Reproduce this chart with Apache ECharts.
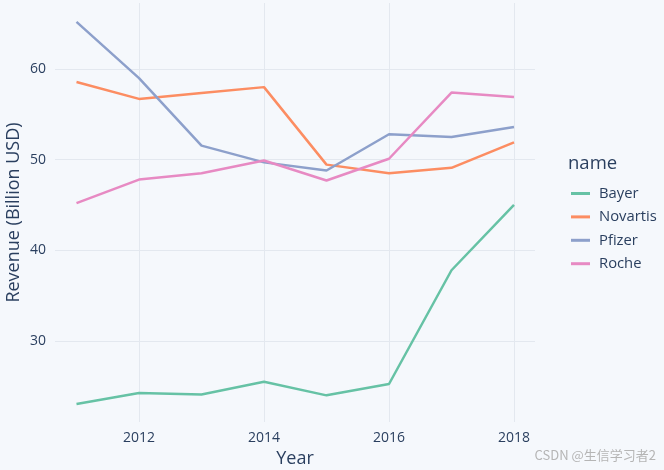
<!DOCTYPE html>
<html><head><meta charset="utf-8">
<script src="https://cdn.jsdelivr.net/npm/echarts@6/dist/echarts.min.js"></script>
<style>html,body{margin:0;padding:0;background:#f5f8fc}#c{width:664px;height:470px}</style>
</head><body><div id="c"></div>
<script>
var years = [2011, 2012, 2013, 2014, 2015, 2016, 2017, 2018];
var bayer    = [23.05, 24.26, 24.1, 25.5, 24.0, 25.25, 37.8, 45.0];
var novartis = [58.57, 56.7, 57.35, 58.0, 49.45, 48.5, 49.1, 51.9];
var pfizer   = [65.2, 59.0, 51.55, 49.7, 48.8, 52.8, 52.5, 53.6];
var roche    = [45.2, 47.8, 48.5, 49.9, 47.7, 50.1, 57.4, 56.9];
var xTicks = [2012, 2014, 2016, 2018];
var yTicks = [30, 40, 50, 60];
var names = ['Bayer', 'Novartis', 'Pfizer', 'Roche'];
var colors = ['#66c2a5', '#fc8d62', '#8da0cb', '#e78ac3'];
var seriesData = [bayer, novartis, pfizer, roche];

var txt = '#2a3f5f';
var font = "'Open Sans', 'Noto Sans', sans-serif";
var chart = echarts.init(document.getElementById('c'), null, {renderer: 'canvas'});
chart.setOption({
  backgroundColor: '#f5f8fc',
  animation: false,
  textStyle: {fontFamily: font},
  color: colors,
  grid: {left: 55, right: 129, top: 3, bottom: 48, containLabel: false, outerBoundsMode: 'none'},
  title: {text: 'name', left: 563, top: 149, textStyle: {fontFamily: font, fontSize: 18.5, fontWeight: 'normal', color: txt}},
  legend: {
    orient: 'vertical', left: 566, top: 181, icon: 'rect', itemWidth: 19, itemHeight: 3, itemGap: 8.4,
    textStyle: {fontFamily: font, fontSize: 14.8, color: txt, padding: [0, 0, 0, 4]},
    data: names
  },
  xAxis: {
    type: 'value', min: 2010.656, max: 2018.336,
    name: 'Year', nameLocation: 'middle', nameGap: 28, nameMoveOverlap: false,
    nameTextStyle: {fontFamily: font, fontSize: 18, color: txt},
    axisLine: {show: false}, axisTick: {show: false, customValues: xTicks},
    axisLabel: {customValues: xTicks, fontFamily: font, fontSize: 14, color: txt, margin: 9,
      formatter: function (v) { return String(v); }},
    splitLine: {show: true, lineStyle: {color: '#e3e8ef', width: 1}}
  },
  yAxis: {
    type: 'value', min: 21.06, max: 67.28,
    name: 'Revenue (Billion USD)', nameLocation: 'middle', nameGap: 32, nameMoveOverlap: false,
    nameTextStyle: {fontFamily: font, fontSize: 18, color: txt},
    axisLine: {show: false}, axisTick: {show: false, customValues: yTicks},
    axisLabel: {customValues: yTicks, fontFamily: font, fontSize: 14, color: txt, margin: 9,
      formatter: function (v) { return String(v); }},
    splitLine: {show: true, lineStyle: {color: '#e3e8ef', width: 1}}
  },
  series: names.map(function (n, i) {
    return {
      name: n, type: 'line', showSymbol: false, symbol: 'none',
      lineStyle: {width: 2.5, color: colors[i]}, itemStyle: {color: colors[i]},
      data: years.map(function (y, j) { return [y, seriesData[i][j]]; })
    };
  }),
  graphic: [{
    type: 'text', right: 8, top: 449,
    style: {text: 'CSDN @生信学习者2', fontSize: 13, fill: '#b5b5b5', fontFamily: "'Noto Sans CJK SC', sans-serif"}
  }]
});
</script></body></html>
